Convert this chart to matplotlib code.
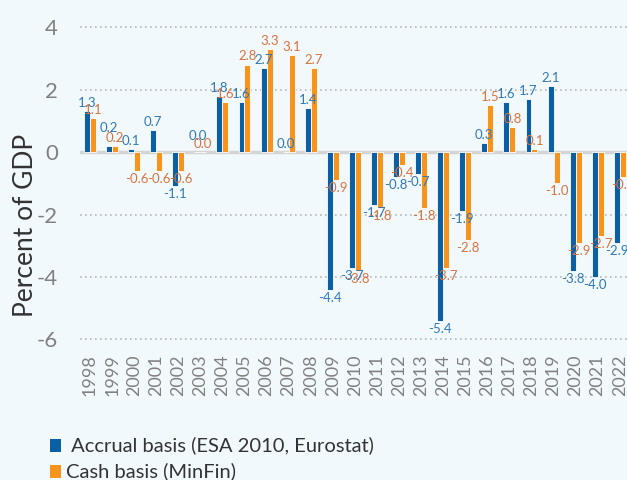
import matplotlib.pyplot as plt
import numpy as np

years = [str(y) for y in range(1998, 2023)]
accrual = [1.3, 0.2, 0.1, 0.7, -1.1, 0.0, 1.8, 1.6, 2.7, 0.0, 1.4, -4.4, -3.7,
           -1.7, -0.8, -0.7, -5.4, -1.9, 0.3, 1.6, 1.7, 2.1, -3.8, -4.0, -2.9]
cash = [1.1, 0.2, -0.6, -0.6, -0.6, 0.0, 1.6, 2.8, 3.3, 3.1, 2.7, -0.9, -3.8,
        -1.8, -0.4, -1.8, -3.7, -2.8, 1.5, 0.8, 0.1, -1.0, -2.9, -2.7, -0.8]

bg = '#f2f9fd'
blue = '#0b5fa5'
orange = '#f7941d'
blue_txt = '#2f78b8'
orange_txt = '#d8733f'

plt.rcParams['font.family'] = ['Lato', 'DejaVu Sans']
plt.rcParams['axes.unicode_minus'] = False

fig = plt.figure(figsize=(6.27, 4.8), dpi=100, facecolor=bg)
ax = fig.add_axes([0.1276, 0.2797, 0.882, 0.703], facecolor=bg)

x = np.arange(len(years))
w = 0.27
off = 0.135
ax.bar(x - off, accrual, w, color=blue, edgecolor='white', linewidth=0.6, zorder=3)
ax.bar(x + off, cash, w, color=orange, edgecolor='white', linewidth=0.6, zorder=3)

# small vertical nudges where two labels would sit on top of each other
nudge_blue = {1: 7, 5: 6}

def label(xs, vals, col, nudge):
    for i, (xi, v) in enumerate(zip(xs, vals)):
        dy = nudge.get(i, 0)
        if v >= 0:
            ax.annotate(f'{v:.1f}', (xi, v), xytext=(0, 1.5 + dy), textcoords='offset points',
                        ha='center', va='bottom', fontsize=9.5, color=col, zorder=4)
        else:
            ax.annotate(f'{v:.1f}', (xi, v), xytext=(0, -1.5 + dy), textcoords='offset points',
                        ha='center', va='top', fontsize=9.5, color=col, zorder=4)

label(x - off, accrual, blue_txt, nudge_blue)
label(x + off, cash, orange_txt, {})

ax.set_ylim(-6.2, 4.6)
ax.set_xlim(-0.45, 24.6)
ax.set_yticks([-6, -4, -2, 0, 2, 4])
ax.yaxis.grid(True, linestyle=(0, (1, 2)), color='#b8b8b8', linewidth=1.2, zorder=0)
ax.axhline(0, color='#d4d4d4', linewidth=2.5, zorder=2)
ax.set_xticks(x)
ax.set_xticklabels(years, rotation=90, fontsize=13, color='#808080')
ax.tick_params(axis='y', labelsize=16, colors='#808080', length=0, pad=16)
ax.tick_params(axis='x', length=0, pad=6)
for s in ax.spines.values():
    s.set_visible(False)

fig.text(0.04, 0.53, 'Percent of GDP', rotation=90, ha='center', va='center',
         fontsize=19, color='#333333')

fig.patches.append(plt.Rectangle((0.079, 0.058), 0.019, 0.028, transform=fig.transFigure,
                                 facecolor=blue, figure=fig))
fig.patches.append(plt.Rectangle((0.079, 0.004), 0.019, 0.028, transform=fig.transFigure,
                                 facecolor=orange, figure=fig))
fig.text(0.105, 0.073, ' Accrual basis (ESA 2010, Eurostat)', ha='left', va='center',
         fontsize=14.5, color='#333333')
fig.text(0.105, 0.019, 'Cash basis (MinFin)', ha='left', va='center',
         fontsize=14.5, color='#333333')

fig.savefig('out.png', dpi=100, facecolor=bg)
